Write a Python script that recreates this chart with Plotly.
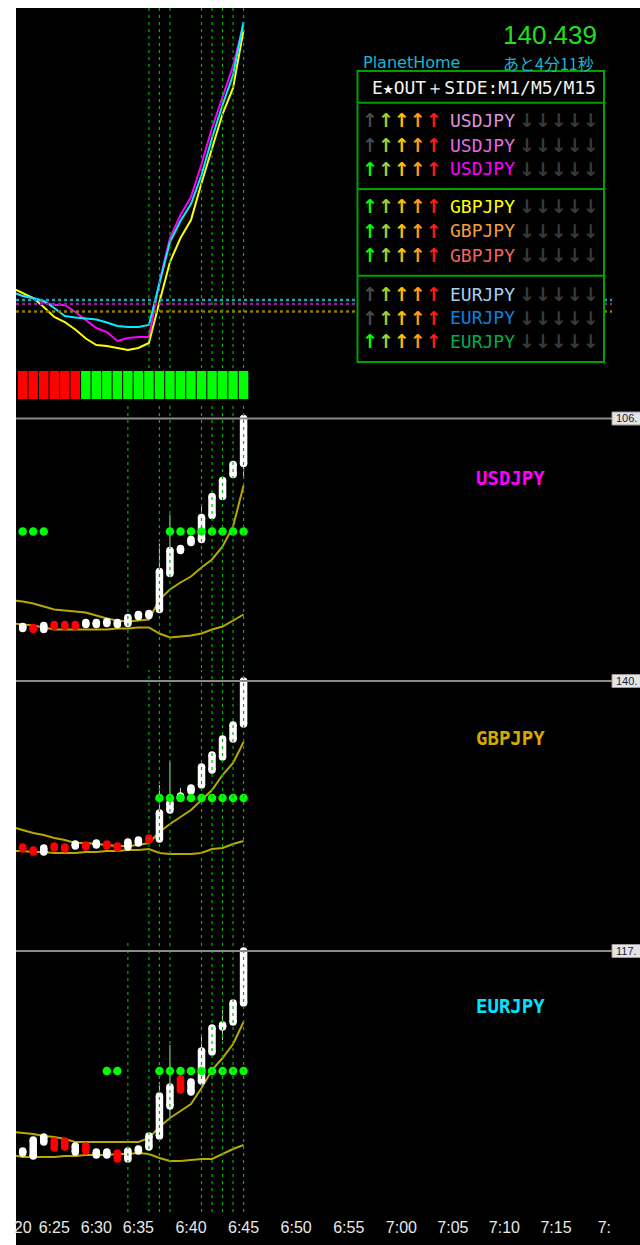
import plotly.graph_objects as go

# ---------------- data ----------------
bar_index = list(range(22))          # 1-minute bars (6:24 .. 6:45)
line_index = list(range(-1, 22))     # indicator lines start one bar earlier (left edge)

time_tick_pos = [0, 3, 7, 11, 16, 21, 26, 31, 36, 40.9, 45.8, 50.7, 55.3]
time_tick_text = ["20", "6:25", "6:30", "6:35", "6:40", "6:45", "6:50", "6:55",
                  "7:00", "7:05", "7:10", "7:15", "7:"]

# top panel: three moving averages (arbitrary strength units)
ma_magenta = [76, 72, 70, 65.5, 63, 63, 56, 48, 40, 36, 27, 30, 31, 31, 86, 130, 153, 171, 204, 240, 270, 302, 344]
ma_cyan = [76, 72, 70, 67, 60, 52, 50.5, 49.5, 48.5, 45.5, 42, 41, 41, 43, 84, 126, 147, 164, 193, 230, 263, 293, 346]
ma_yellow = [80, 75, 70, 61, 51, 46, 38.5, 29.5, 23, 22, 20, 18, 20, 25, 66, 106, 130, 148, 185, 220, 254, 280, 338]
level_cyan = 68
level_magenta = 64
level_yellow = 56.5
top_marks = [12, 13, 14, 17, 18, 19, 20, 21]

# trend strip (-1 = down / red, 1 = up / green)
trend_state = [-1, -1, -1, -1, -1, -1, 1, 1, 1, 1, 1, 1, 1, 1, 1, 1, 1, 1, 1, 1, 1, 1]

# USDJPY
u_open = [106.060, 106.061, 106.059, 106.064, 106.064, 106.064, 106.064, 106.064, 106.065, 106.064, 106.065,
          106.072, 106.073, 106.079, 106.115, 106.138, 106.146, 106.149, 106.173, 106.192, 106.214, 106.225]
u_close = [106.062, 106.059, 106.063, 106.062, 106.062, 106.062, 106.066, 106.066, 106.067, 106.066, 106.071,
           106.074, 106.075, 106.117, 106.138, 106.140, 106.149, 106.171, 106.192, 106.208, 106.224, 106.270]
u_high = [106.062, 106.061, 106.063, 106.064, 106.064, 106.064, 106.066, 106.066, 106.067, 106.066, 106.071,
          106.074, 106.075, 106.145, 106.174, 106.140, 106.149, 106.182, 106.192, 106.208, 106.224, 106.270]
u_low = [106.060, 106.059, 106.059, 106.062, 106.062, 106.062, 106.064, 106.064, 106.065, 106.064, 106.065,
         106.072, 106.073, 106.079, 106.115, 106.138, 106.146, 106.149, 106.173, 106.192, 106.214, 106.211]
u_upper = [106.088, 106.087, 106.085, 106.082, 106.079, 106.078, 106.077, 106.076, 106.073, 106.070, 106.068, 106.067,
           106.068, 106.069, 106.089, 106.099, 106.106, 106.112, 106.121, 106.129, 106.142, 106.162, 106.203]
u_lower = [106.065, 106.064, 106.063, 106.061, 106.059, 106.059, 106.059, 106.059, 106.059, 106.059, 106.060, 106.060,
           106.061, 106.061, 106.055, 106.051, 106.052, 106.053, 106.055, 106.059, 106.062, 106.068, 106.074]
u_signal_bars = [0, 1, 2, 14, 15, 16, 17, 18, 19, 20, 21]
u_signal_level = 106.157
u_marks = [10, 13, 14, 17, 18, 19, 20, 21]

# GBPJPY
g_open = [140.273, 140.270, 140.268, 140.274, 140.273, 140.274, 140.275, 140.275, 140.276, 140.274, 140.273,
          140.277, 140.282, 140.281, 140.310, 140.322, 140.329, 140.335, 140.350, 140.363, 140.381, 140.396]
g_close = [140.271, 140.268, 140.272, 140.272, 140.271, 140.276, 140.273, 140.277, 140.274, 140.272, 140.278,
           140.280, 140.280, 140.307, 140.317, 140.324, 140.332, 140.353, 140.365, 140.381, 140.395, 140.439]
g_high = [140.273, 140.270, 140.272, 140.274, 140.273, 140.276, 140.275, 140.277, 140.276, 140.274, 140.278,
          140.280, 140.282, 140.335, 140.358, 140.332, 140.332, 140.353, 140.365, 140.381, 140.395, 140.439]
g_low = [140.271, 140.268, 140.268, 140.272, 140.271, 140.274, 140.273, 140.275, 140.274, 140.272, 140.273,
         140.277, 140.280, 140.281, 140.310, 140.322, 140.329, 140.335, 140.350, 140.363, 140.381, 140.396]
g_upper = [140.293, 140.290, 140.287, 140.285, 140.282, 140.280, 140.277, 140.277, 140.276, 140.275, 140.274, 140.274,
           140.275, 140.277, 140.288, 140.296, 140.303, 140.310, 140.320, 140.330, 140.345, 140.357, 140.378]
g_lower = [140.269, 140.269, 140.268, 140.268, 140.267, 140.267, 140.267, 140.268, 140.268, 140.269, 140.269, 140.270,
           140.270, 140.271, 140.267, 140.266, 140.266, 140.266, 140.267, 140.271, 140.272, 140.276, 140.279]
g_signal_bars = [13, 14, 15, 16, 17, 18, 19, 20, 21]
g_signal_level = 140.322
g_marks = [12, 13, 14, 17, 18, 19, 20, 21]

# EURJPY
e_open = [117.150, 117.147, 117.161, 117.162, 117.162, 117.151, 117.157, 117.148, 117.148, 117.150, 117.144,
          117.152, 117.156, 117.167, 117.197, 117.224, 117.211, 117.222, 117.251, 117.276, 117.281, 117.300]
e_close = [117.152, 117.163, 117.166, 117.155, 117.156, 117.157, 117.152, 117.151, 117.151, 117.144, 117.152,
           117.154, 117.167, 117.207, 117.216, 117.213, 117.221, 117.252, 117.275, 117.278, 117.300, 117.352]
e_high = [117.152, 117.163, 117.166, 117.162, 117.162, 117.157, 117.157, 117.151, 117.151, 117.150, 117.152,
          117.154, 117.167, 117.221, 117.258, 117.224, 117.221, 117.266, 117.275, 117.293, 117.300, 117.352]
e_low = [117.150, 117.147, 117.161, 117.155, 117.156, 117.151, 117.152, 117.148, 117.148, 117.144, 117.144,
         117.152, 117.156, 117.167, 117.186, 117.213, 117.211, 117.222, 117.251, 117.263, 117.281, 117.300]
e_upper = [117.171, 117.170, 117.169, 117.167, 117.166, 117.164, 117.161, 117.161, 117.161, 117.161, 117.161, 117.161,
           117.161, 117.165, 117.176, 117.185, 117.192, 117.199, 117.215, 117.233, 117.245, 117.259, 117.281]
e_lower = [117.148, 117.146, 117.146, 117.146, 117.146, 117.147, 117.147, 117.148, 117.148, 117.148, 117.149, 117.149,
           117.150, 117.149, 117.145, 117.142, 117.142, 117.143, 117.144, 117.144, 117.149, 117.154, 117.158]
e_signal_bars = [8, 9, 13, 14, 15, 16, 17, 18, 19, 20, 21]
e_signal_level = 117.232
e_marks = [10, 12, 13, 14, 17, 18, 19, 20, 21]

# table
table_pairs = ["USDJPY", "USDJPY", "USDJPY", "GBPJPY", "GBPJPY", "GBPJPY", "EURJPY", "EURJPY", "EURJPY"]
table_name_colors = ["#dc92dc", "#e46ae4", "#ff00ff", "#ffff00", "#f0a040", "#f26464", "#a6cdf2", "#0a82e0", "#00ad52"]
table_first_on = [False, False, True, True, True, True, False, False, True]
table_header = "E★OUT＋SIDE:M1/M5/M15"
header_info = "PlanetHome"
countdown = "あと4分11秒"

# ---------------- layout helpers ----------------
W, H = 640, 1245
L, T = 16, 8
PW, PH = W - L, H - T


def px_x(x):
    return (x - L) / PW


def px_y(y):
    return 1 - (y - T) / PH


X_RANGE = [-0.637, 58.69]
RIGHT_EDGE = px_x(612)

fig = go.Figure()


def line_trace(x, y, axis, color, width):
    fig.add_trace(go.Scatter(x=x, y=y, yaxis=axis, mode="lines", line=dict(color=color, width=width),
                             hoverinfo="skip", showlegend=False))


# top panel
line_trace(line_index, ma_magenta, "y", "#ff00ff", 2)
line_trace(line_index, ma_yellow, "y", "#ffff00", 2)
line_trace(line_index, ma_cyan, "y", "#00f0ff", 2)

# trend strip
fig.add_trace(go.Bar(x=bar_index, y=[abs(v) for v in trend_state], base=0, yaxis="y2", width=0.9,
                     marker=dict(color=["#00ff00" if v > 0 else "#ff0000" for v in trend_state], line=dict(width=0)),
                     hoverinfo="skip", showlegend=False))

panels = [
    ("y3", u_open, u_close, u_high, u_low, u_upper, u_lower, u_signal_bars, u_signal_level),
    ("y4", g_open, g_close, g_high, g_low, g_upper, g_lower, g_signal_bars, g_signal_level),
    ("y5", e_open, e_close, e_high, e_low, e_upper, e_lower, e_signal_bars, e_signal_level),
]
OLIVE = "#b8a800"
for axis, o, c, hi, lo, up, dn, sig, lvl in panels:
    line_trace(line_index, up, axis, OLIVE, 2)
    line_trace(line_index, dn, axis, OLIVE, 2)
    wx, wy = [], []
    for i in bar_index:
        wx += [i, i, None]
        wy += [lo[i], hi[i], None]
    fig.add_trace(go.Scatter(x=wx, y=wy, yaxis=axis, mode="lines", line=dict(color="#c8c8c8", width=1),
                             hoverinfo="skip", showlegend=False))
    for up_dir, col in ((True, "#ffffff"), (False, "#ff0000")):
        bx, by = [], []
        for i in bar_index:
            if (c[i] >= o[i]) == up_dir:
                bx += [i, i, None]
                by += [o[i], c[i], None]
        fig.add_trace(go.Scatter(x=bx, y=by, yaxis=axis, mode="lines+markers",
                                 line=dict(color=col, width=7.5),
                                 marker=dict(color=col, size=7.5, line=dict(width=0)),
                                 hoverinfo="skip", showlegend=False))
    fig.add_trace(go.Scatter(x=sig, y=[lvl] * len(sig), yaxis=axis, mode="markers",
                             marker=dict(color="#00ff00", size=8.5, line=dict(width=0)),
                             hoverinfo="skip", showlegend=False))

shapes = []
# black chart background
shapes.append(dict(type="rect", xref="paper", yref="paper", x0=0, x1=1.02, y0=-0.01, y1=1,
                   fillcolor="black", line=dict(width=0), layer="below"))

# dotted MA levels in top panel
for lvl, col in ((level_cyan, "#16a6b8"), (level_magenta, "#951f95"), (level_yellow, "#8c7c00")):
    shapes.append(dict(type="line", xref="paper", yref="y", x0=0, x1=RIGHT_EDGE, y0=lvl, y1=lvl,
                       line=dict(color=col, width=2.5, dash="3px,3px"), layer="above"))

# signal dashed verticals
for axis, marks in (("y", top_marks), ("y3", u_marks), ("y4", g_marks), ("y5", e_marks)):
    for m in marks:
        shapes.append(dict(type="line", xref="x", yref=axis + " domain", x0=m, x1=m, y0=0, y1=1,
                           line=dict(color="#00b400", width=1.2, dash="3px,4px"), layer="above"))

# current price lines + labels
price_axes = (("y3", u_close[-1]), ("y4", g_close[-1]), ("y5", e_close[-1]))
for axis, last in price_axes:
    shapes.append(dict(type="line", xref="paper", yref=axis, x0=0, x1=RIGHT_EDGE, y0=last, y1=last,
                       line=dict(color="#8a8a8a", width=2), layer="above"))
    shapes.append(dict(type="rect", xref="paper", yref=axis, x0=RIGHT_EDGE, x1=1.05,
                       y0=last - 0.0065, y1=last + 0.0065, fillcolor="#e4e4e4",
                       line=dict(color="#9a9a9a", width=1), layer="above"))

# table box
GREEN = "#00a000"
shapes.append(dict(type="rect", xref="paper", yref="paper", x0=px_x(357.5), x1=px_x(604),
                   y0=px_y(362), y1=px_y(71), fillcolor="black", line=dict(color=GREEN, width=2), layer="above"))
for sy in (102.7, 189, 275.7):
    shapes.append(dict(type="line", xref="paper", yref="paper", x0=px_x(357.5), x1=px_x(604),
                       y0=px_y(sy), y1=px_y(sy), line=dict(color=GREEN, width=2), layer="above"))

annotations = []


def ann(x, y, text, size, color, family, xanchor="center", yanchor="middle"):
    annotations.append(dict(x=px_x(x), y=px_y(y), xref="paper", yref="paper", text=text, showarrow=False,
                            font=dict(size=size, color=color, family=family),
                            xanchor=xanchor, yanchor=yanchor, borderpad=0))


ann(598, 35, f"{g_close[-1]:.3f}", 26, "#22dd22", "Liberation Sans, Arial", xanchor="right")
ann(362, 62, header_info, 16, "#1fb4cc", "DejaVu Sans", xanchor="left")
ann(595, 62.5, countdown, 16, "#1fb4cc", "Noto Sans CJK JP", xanchor="right")
ann(484, 87, table_header, 18, "#f2f2f2", "DejaVu Sans Mono")

row_y = [120.5, 145, 169, 206, 230.5, 255, 294, 317.5, 341]
up_colors = ["#00ff00", "#a0d030", "#ffc000", "#ff9c10", "#ff1a1a"]
OFF = "#4a4a4a"
DOWN_OFF = "#3a3a3a"
for r, yy in enumerate(row_y):
    cols = [up_colors[k] if (k > 0 or table_first_on[r]) else OFF for k in range(5)]
    up_txt = "<b>" + "".join(f"<span style='color:{c}'>↑</span>" for c in cols) + "</b>"
    ann(402, yy, up_txt, 19, OFF, "DejaVu Sans")
    ann(449, yy, table_pairs[r], 18, table_name_colors[r], "DejaVu Sans Mono", xanchor="left")
    ann(559, yy, "<b>↓↓↓↓↓</b>", 19, DOWN_OFF, "DejaVu Sans")

# panel titles
ann(510, 478, "<b>USDJPY</b>", 19, "#ff00ff", "DejaVu Sans Mono")
ann(510, 738, "<b>GBPJPY</b>", 19, "#d8aa00", "DejaVu Sans Mono")
ann(510, 1006, "<b>EURJPY</b>", 19, "#00e4ff", "DejaVu Sans Mono")

# price labels (only the visible part before the right edge)
for (axis, last), yy in zip(price_axes, (418.5, 681, 951)):
    ann(615, yy, f"{last:.3f}"[:4], 11, "#1a1a3a", "Liberation Sans, Arial", xanchor="left")

AX = dict(visible=False, fixedrange=True, anchor="x")
fig.update_layout(
    width=W, height=H,
    margin=dict(l=L, r=0, t=T, b=0, pad=0),
    paper_bgcolor="white", plot_bgcolor="black",
    showlegend=False, barmode="overlay",
    xaxis=dict(range=X_RANGE, domain=[0, 1], anchor="y5", showgrid=False, zeroline=False, showline=False,
               ticks="", tickvals=time_tick_pos, ticktext=time_tick_text, fixedrange=True, ticklabelstandoff=4,
               tickfont=dict(size=16, color="#e8e8e8", family="Liberation Sans Narrow, Liberation Sans, Arial")),
    yaxis=dict(domain=[px_y(368), px_y(8)], range=[0, 360], **AX),
    yaxis2=dict(domain=[px_y(399.3), px_y(370.7)], range=[0, 1], **AX),
    yaxis3=dict(domain=[px_y(668), px_y(402)], range=[106.0205, 106.2865], **AX),
    yaxis4=dict(domain=[px_y(938), px_y(670)], range=[140.182, 140.450], **AX),
    yaxis5=dict(domain=[px_y(1212), px_y(940)], range=[117.091, 117.363], **AX),
    shapes=shapes,
    annotations=annotations,
)

fig.write_html(
    "out.html",
    config={"displayModeBar": False, "staticPlot": True},
    post_script="document.body.style.margin='0';document.documentElement.style.overflow='hidden';"
                "document.body.style.overflow='hidden';",
)
